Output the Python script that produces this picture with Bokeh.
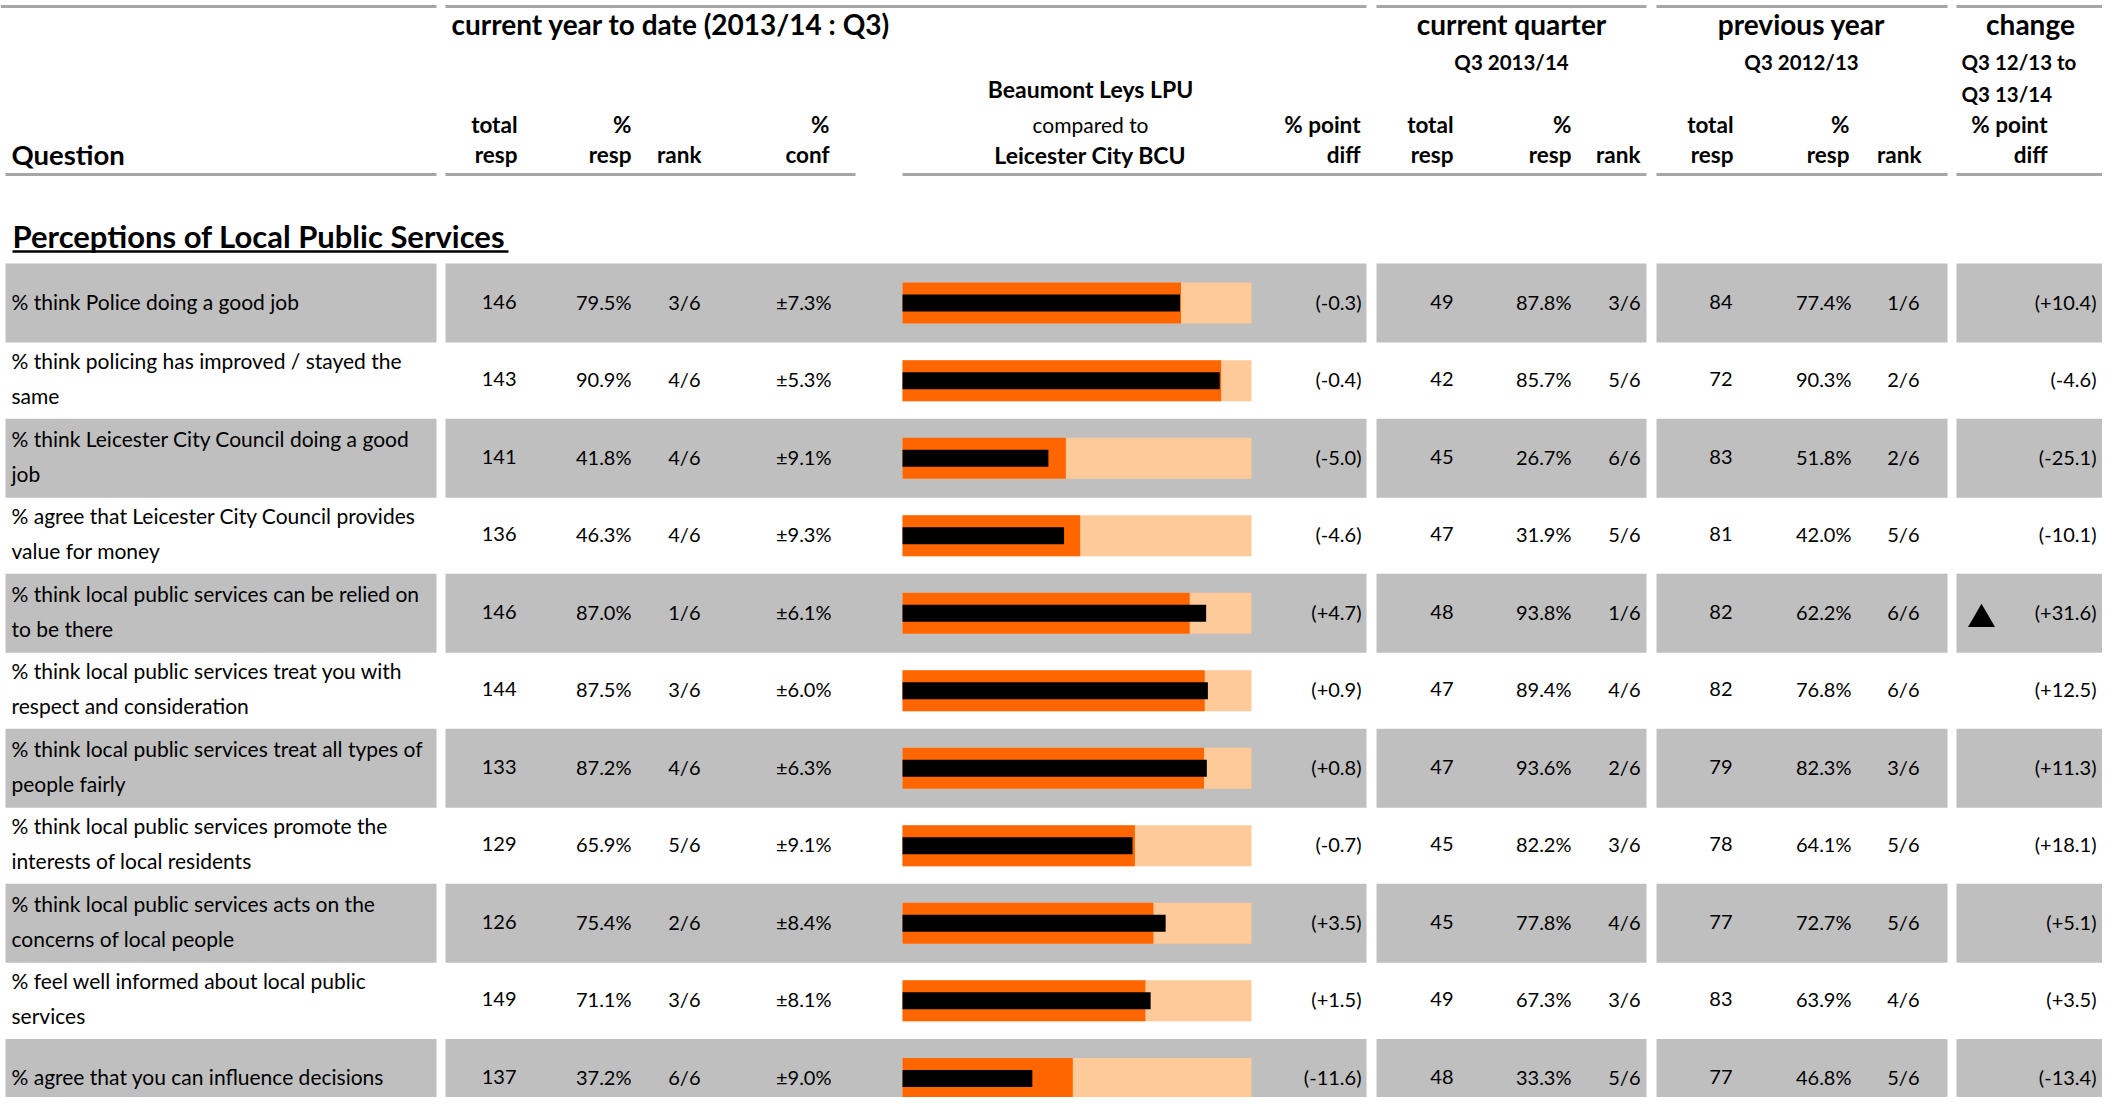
from bokeh.plotting import figure
from bokeh.models import Range1d, ColumnDataSource
from bokeh.core.properties import value
from bokeh.embed import file_html
from bokeh.resources import INLINE

# ---------------- data ----------------
section_title = "Perceptions of Local Public Services"
questions = [
    "% think Police doing a good job",
    "% think policing has improved / stayed the\nsame",
    "% think Leicester City Council doing a good\njob",
    "% agree that Leicester City Council provides\nvalue for money",
    "% think local public services can be relied on\nto be there",
    "% think local public services treat you with\nrespect and consideration",
    "% think local public services treat all types of\npeople fairly",
    "% think local public services promote the\ninterests of local residents",
    "% think local public services acts on the\nconcerns of local people",
    "% feel well informed about local public\nservices",
    "% agree that you can influence decisions",
]
ytd_total = [146, 143, 141, 136, 146, 144, 133, 129, 126, 149, 137]
ytd_pct = [79.5, 90.9, 41.8, 46.3, 87.0, 87.5, 87.2, 65.9, 75.4, 71.1, 37.2]
ytd_rank = ["3/6", "4/6", "4/6", "4/6", "1/6", "3/6", "4/6", "5/6", "2/6", "3/6", "6/6"]
ytd_conf = [7.3, 5.3, 9.1, 9.3, 6.1, 6.0, 6.3, 9.1, 8.4, 8.1, 9.0]
bcu_pct = [79.8, 91.3, 46.8, 50.9, 82.3, 86.6, 86.4, 66.6, 71.9, 69.6, 48.8]
bcu_diff = [-0.3, -0.4, -5.0, -4.6, 4.7, 0.9, 0.8, -0.7, 3.5, 1.5, -11.6]
cq_total = [49, 42, 45, 47, 48, 47, 47, 45, 45, 49, 48]
cq_pct = [87.8, 85.7, 26.7, 31.9, 93.8, 89.4, 93.6, 82.2, 77.8, 67.3, 33.3]
cq_rank = ["3/6", "5/6", "6/6", "5/6", "1/6", "4/6", "2/6", "3/6", "4/6", "3/6", "5/6"]
py_total = [84, 72, 83, 81, 82, 82, 79, 78, 77, 83, 77]
py_pct = [77.4, 90.3, 51.8, 42.0, 62.2, 76.8, 82.3, 64.1, 72.7, 63.9, 46.8]
py_rank = ["1/6", "2/6", "2/6", "5/6", "6/6", "6/6", "3/6", "5/6", "5/6", "4/6", "5/6"]
change = [10.4, -4.6, -25.1, -10.1, 31.6, 12.5, 11.3, 18.1, 5.1, 3.5, -13.4]
change_sig_up = [0, 0, 0, 0, 1, 0, 0, 0, 0, 0, 0]
scale_max = 100

# ---------------- layout / style ----------------
FONT = "Lato"
GREY = "#BFBFBF"
LINE = "#A6A6A6"
W, H = 2102, 1097
ROW0, PITCH = 302.6, 77.53
BAR0, BAR_PX = 902.0, 3.49

p = figure(width=W, height=H, x_range=Range1d(0, W), y_range=Range1d(H, 0),
           x_axis_location=None, y_axis_location=None, output_backend="svg",
           toolbar_location=None, tools="", min_border=0)
p.grid.visible = False
p.outline_line_color = None
p.background_fill_color = "white"
p.border_fill_color = "white"
p.extra_y_ranges = {"row": Range1d(start=(H - ROW0) / PITCH, end=(0 - ROW0) / PITCH)}
p.extra_x_ranges = {"pct": Range1d(start=(0 - BAR0) / BAR_PX, end=(W - BAR0) / BAR_PX)}

n = len(questions)
rows = list(range(n))
grey_rows = [i for i in rows if i % 2 == 0]

# grey row bands per column block
blocks = [(5, 436), (445, 1366), (1376, 1646), (1656, 1947), (1956, 2102)]
for l, r in blocks:
    p.hbar(y=grey_rows, left=l, right=r, height=79 / PITCH, y_range_name="row",
           fill_color=GREY, line_color=None)

# header rules
top_segs = [(0, 436), (445, 1366), (1376, 1646), (1656, 1947), (1956, 2118)]
bot_segs = [(5, 436), (445, 855), (902, 1646), (1656, 1947), (1956, 2118)]
for segs, yy in ((top_segs, 6), (bot_segs, 174)):
    p.segment(x0=[a for a, b in segs], x1=[b for a, b in segs], y0=[yy] * len(segs), y1=[yy] * len(segs),
              line_width=3, line_color=LINE, line_cap="butt")

# bullet bars
p.hbar(y=rows, left=0, right=[scale_max] * n, height=41 / PITCH, x_range_name="pct", y_range_name="row",
       fill_color="#FFCA99", line_color=None)
p.hbar(y=rows, left=0, right=bcu_pct, height=41 / PITCH, x_range_name="pct", y_range_name="row",
       fill_color="#FF6600", line_color=None)
p.hbar(y=rows, left=0, right=ytd_pct, height=17 / PITCH, x_range_name="pct", y_range_name="row",
       fill_color="#000000", line_color=None)

# significance marker
sig_rows = [i for i in rows if change_sig_up[i]]
p.scatter(x=[1981] * len(sig_rows), y=[i + 6 / PITCH for i in sig_rows], marker="triangle", size=27,
          y_range_name="row", fill_color="black", line_color=None)


def txt(xs, ys, texts, align="left", size=18, style="normal", yr=None):
    src = ColumnDataSource(dict(x=xs, y=ys, t=texts))
    kw = dict(y_range_name=yr) if yr else {}
    p.text(x="x", y="y", text="t", source=src, text_align=align, text_baseline="middle",
           text_font=value(FONT), text_font_size=f"{size}px", text_font_style=style,
           text_color="black", **kw)


# question texts (y = visual middle)
qx, qy, qt = [], [], []
for i, q in enumerate(questions):
    lines = q.split("\n")
    offs = [-2] if len(lines) == 1 else [-20, 15]
    for ln, o in zip(lines, offs):
        qx.append(11)
        qy.append(i + o / PITCH)
        qt.append(ln)
txt(qx, qy, qt, "left", 21, "normal", "row")

# value columns
vy = [i - 1.5 / PITCH for i in rows]
columns = [
    (516, [str(v) for v in ytd_total]),
    (631, [f"{v:.1f}%" for v in ytd_pct]),
    (700, ytd_rank),
    (831, [f"\u00b1{v:.1f}%" for v in ytd_conf]),
    (1361, [f"({v:+.1f})" for v in bcu_diff]),
    (1453, [str(v) for v in cq_total]),
    (1571, [f"{v:.1f}%" for v in cq_pct]),
    (1640, cq_rank),
    (1732, [str(v) for v in py_total]),
    (1851, [f"{v:.1f}%" for v in py_pct]),
    (1919, py_rank),
    (2096, [f"({v:+.1f})" for v in change]),
]
for xr, vals in columns:
    txt([xr] * n, vy, vals, "right", 20, "normal", "row")

# headers: (text, x, middle y, align, size, style)
headers = [
    ("current year to date (2013/14 : Q3)", 451, 23.5, "left", 28, "bold"),
    ("current quarter", 1511, 23.5, "center", 28, "bold"),
    ("previous year", 1801, 23.5, "center", 28, "bold"),
    ("change", 2030, 23.5, "center", 28, "bold"),
    ("Q3 2013/14", 1511, 61, "center", 20.5, "bold"),
    ("Q3 2012/13", 1801, 61, "center", 20.5, "bold"),
    ("Q3 12/13 to", 1961, 61, "left", 20.5, "bold"),
    ("Q3 13/14", 1961, 93, "left", 20.5, "bold"),
    ("Beaumont Leys LPU", 1090, 88, "center", 23, "bold"),
    ("compared to", 1090, 124, "center", 21, "normal"),
    ("Leicester City BCU", 1090, 154, "center", 23, "bold"),
    ("total", 517, 124, "right", 22.5, "bold"),
    ("%", 631, 124, "right", 22.5, "bold"),
    ("%", 829, 124, "right", 22.5, "bold"),
    ("% point", 1360, 124, "right", 22.5, "bold"),
    ("total", 1453, 124, "right", 22.5, "bold"),
    ("%", 1571, 124, "right", 22.5, "bold"),
    ("total", 1733, 124, "right", 22.5, "bold"),
    ("%", 1849, 124, "right", 22.5, "bold"),
    ("% point", 2047, 124, "right", 22.5, "bold"),
    ("Question", 11, 154, "left", 27.5, "bold"),
    ("resp", 517, 154, "right", 22.5, "bold"),
    ("resp", 631, 154, "right", 22.5, "bold"),
    ("rank", 701, 154, "right", 22.5, "bold"),
    ("conf", 829, 154, "right", 22.5, "bold"),
    ("diff", 1360, 154, "right", 22.5, "bold"),
    ("resp", 1453, 154, "right", 22.5, "bold"),
    ("resp", 1571, 154, "right", 22.5, "bold"),
    ("rank", 1640, 154, "right", 22.5, "bold"),
    ("resp", 1733, 154, "right", 22.5, "bold"),
    ("resp", 1849, 154, "right", 22.5, "bold"),
    ("rank", 1921, 154, "right", 22.5, "bold"),
    ("diff", 2047, 154, "right", 22.5, "bold"),
]
for t, x, y, a, s, st in headers:
    txt([x], [y], [t], a, s, st)

# section title with underline
txt([12], [235], [section_title], "left", 31, "bold")
p.segment(x0=[12], x1=[508], y0=[251], y1=[251], line_width=2.5, line_color="black", line_cap="butt")

open("out.html", "w").write(file_html(p, INLINE))
